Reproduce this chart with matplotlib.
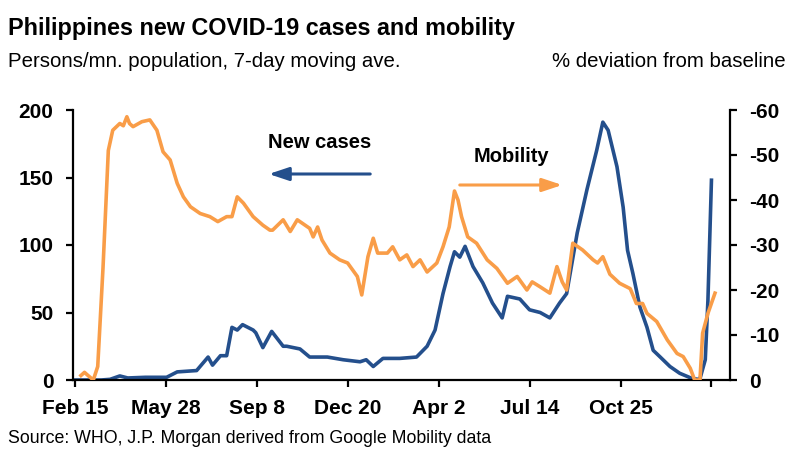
import matplotlib
matplotlib.use("Agg")
import matplotlib.pyplot as plt
import pandas as pd

plt.rcParams['font.family'] = ['Liberation Sans', 'DejaVu Sans']

# New cases, persons per mn population (7-day ma), left axis
case_dates = [
    '2020-02-15', '2020-03-16', '2020-03-26', '2020-04-06', '2020-04-15', '2020-05-05',
    '2020-05-29', '2020-06-10', '2020-07-02', '2020-07-15', '2020-07-20', '2020-07-29',
    '2020-08-05', '2020-08-11', '2020-08-17', '2020-08-23', '2020-08-29', '2020-09-04',
    '2020-09-07', '2020-09-15', '2020-09-25', '2020-10-08', '2020-10-12', '2020-10-27',
    '2020-11-07', '2020-11-27', '2020-12-15', '2021-01-03', '2021-01-10', '2021-01-18',
    '2021-01-29', '2021-02-17', '2021-03-08', '2021-03-20', '2021-03-29', '2021-04-07',
    '2021-04-15', '2021-04-20', '2021-04-26', '2021-05-02', '2021-05-11', '2021-05-22',
    '2021-06-02', '2021-06-13', '2021-06-19', '2021-07-03', '2021-07-14', '2021-07-26',
    '2021-08-06', '2021-08-17', '2021-08-25', '2021-09-06', '2021-09-17', '2021-09-28',
    '2021-10-05', '2021-10-11', '2021-10-21', '2021-10-28', '2021-11-02', '2021-11-08',
    '2021-11-16', '2021-11-24', '2021-12-01', '2021-12-09', '2021-12-20', '2021-12-31',
    '2022-01-12', '2022-01-20', '2022-01-23', '2022-01-29', '2022-02-01', '2022-02-05',
]
new_cases = [
    0, 0, 0.5, 3, 1.5, 2,
    2, 6, 7, 17, 11, 18,
    18, 39, 37, 41, 39, 37,
    35, 24, 36, 25, 25, 23,
    17, 17, 15, 13.5, 15, 10,
    16, 16, 17, 25, 37, 64,
    84, 95, 91, 99, 84, 72,
    57, 46, 62, 60, 52, 50,
    46, 57, 64, 109, 141, 170,
    191, 185, 158, 128, 96, 79,
    54, 39, 22, 17, 10, 5,
    1.7, 0.5, 1, 15, 59, 148,
]

# Mobility, % deviation from baseline, right axis (inverted)
mob_dates = [
    '2020-02-22', '2020-02-26', '2020-03-01', '2020-03-07', '2020-03-12', '2020-03-18',
    '2020-03-24', '2020-03-29', '2020-04-06', '2020-04-10', '2020-04-14', '2020-04-17',
    '2020-04-21', '2020-05-01', '2020-05-10', '2020-05-18', '2020-05-25', '2020-06-02',
    '2020-06-10', '2020-06-17', '2020-06-25', '2020-07-06', '2020-07-17', '2020-07-26',
    '2020-08-05', '2020-08-11', '2020-08-17', '2020-08-24', '2020-09-04', '2020-09-15',
    '2020-09-23', '2020-09-26', '2020-10-08', '2020-10-16', '2020-10-24', '2020-11-07',
    '2020-11-11', '2020-11-16', '2020-11-21', '2020-11-30', '2020-12-11', '2020-12-20',
    '2020-12-31', '2021-01-05', '2021-01-12', '2021-01-18', '2021-01-23', '2021-02-03',
    '2021-02-09', '2021-02-17', '2021-02-25', '2021-03-04', '2021-03-12', '2021-03-20',
    '2021-03-31', '2021-04-07', '2021-04-14', '2021-04-20', '2021-04-24', '2021-04-28',
    '2021-05-05', '2021-05-15', '2021-05-27', '2021-06-07', '2021-06-19', '2021-06-30',
    '2021-07-11', '2021-07-17', '2021-07-26', '2021-08-06', '2021-08-14', '2021-08-20',
    '2021-08-25', '2021-09-01', '2021-09-12', '2021-09-24', '2021-09-29', '2021-10-05',
    '2021-10-13', '2021-10-24', '2021-11-05', '2021-11-12', '2021-11-19', '2021-11-24',
    '2021-12-05', '2021-12-17', '2021-12-28', '2022-01-04', '2022-01-12', '2022-01-17',
    '2022-01-23', '2022-01-26', '2022-02-01', '2022-02-09',
]
mobility = [
    -1, -1.7, -1, 0, -3, -25,
    -51, -55.5, -57, -56.5, -58.5, -57,
    -56.3, -57.4, -57.8, -55.5, -50.7, -48.9,
    -43.7, -40.7, -38.5, -37, -36.3, -35.2,
    -36.3, -36.3, -40.7, -39.3, -36.3, -34.4,
    -33.3, -33.3, -35.6, -33, -35.6, -33.7,
    -31.8, -34, -31.1, -28.2, -26.7, -26,
    -23, -18.9, -27.4, -31.5, -28.2, -28.2,
    -29.6, -26.7, -27.8, -25.2, -26.7, -24,
    -26, -29.6, -34, -42, -40, -36.3,
    -31.8, -30.4, -26.7, -24.8, -21.5, -23,
    -20, -21.8, -20.7, -19.3, -25.2, -21.8,
    -20, -30.4, -28.9, -26.7, -26, -27.4,
    -23.5, -21.5, -20.3, -17, -17, -14.8,
    -13, -8.9, -5.9, -5.2, -2.6, 0,
    0, -10.4, -14.8, -19.3,
]

tick_dates = pd.date_range('2020-02-15', periods=8, freq='103D')
tick_labels = ['Feb 15', 'May 28', 'Sep 8', 'Dec 20', 'Apr 2', 'Jul 14', 'Oct 25', '']

blue = '#244f8c'
orange = '#f99d48'

fig = plt.figure(figsize=(8, 4.55), dpi=100)
ax = fig.add_axes([73 / 800, 1 - 380 / 455, (730 - 73) / 800, (380 - 110) / 455])
ax2 = ax.twinx()

ax.plot(pd.to_datetime(case_dates), new_cases, color=blue, lw=2.6, solid_joinstyle='round')
ax2.plot(pd.to_datetime(mob_dates), mobility, color=orange, lw=2.6, solid_joinstyle='round')

ax.set_xlim(pd.Timestamp('2020-02-13'), pd.Timestamp('2022-02-26'))
ax.set_ylim(0, 200)
ax.set_yticks([0, 50, 100, 150, 200])
ax2.set_ylim(0, -60)
ax2.set_yticks([0, -10, -20, -30, -40, -50, -60])
ax2.set_yticklabels(['0', '-10', '-20', '-30', '-40', '-50', '-60'])
ax.set_xticks(tick_dates)
ax.set_xticklabels(tick_labels)

for a in (ax, ax2):
    a.spines['top'].set_visible(False)
    for s in ('left', 'right', 'bottom'):
        a.spines[s].set_linewidth(1.6)
    a.tick_params(axis='both', length=5, width=1.6, labelsize=15, pad=9)
    for lab in a.get_xticklabels() + a.get_yticklabels():
        lab.set_fontweight('bold')
ax.spines['right'].set_visible(False)
ax2.spines['left'].set_visible(False)
ax2.spines['bottom'].set_visible(False)
ax.tick_params(axis='x', pad=9)

# arrows with labels
fig.text(320 / 800, 1 - 143 / 455, 'New cases', ha='center', va='center',
         fontsize=14.5, fontweight='bold')
ax.annotate('', xy=(266 / 800, 1 - 174 / 455), xytext=(373 / 800, 1 - 174 / 455),
            xycoords='figure fraction', textcoords='figure fraction',
            arrowprops=dict(arrowstyle='-|>,head_length=1.2,head_width=0.4',
                            color=blue, lw=2.2))
fig.text(511 / 800, 1 - 157 / 455, 'Mobility', ha='center', va='center',
         fontsize=14.5, fontweight='bold')
ax.annotate('', xy=(565 / 800, 1 - 185 / 455), xytext=(457 / 800, 1 - 185 / 455),
            xycoords='figure fraction', textcoords='figure fraction',
            arrowprops=dict(arrowstyle='-|>,head_length=1.2,head_width=0.4',
                            color=orange, lw=2.2))

fig.text(8 / 800, 1 - 35 / 455, 'Philippines new COVID-19 cases and mobility',
         fontsize=16.8, fontweight='bold', va='baseline')
fig.text(8 / 800, 1 - 67 / 455, 'Persons/mn. population, 7-day moving ave.',
         fontsize=14.7, va='baseline')
fig.text(786 / 800, 1 - 67 / 455, '% deviation from baseline',
         fontsize=14.7, va='baseline', ha='right')
fig.text(8 / 800, 1 - 443 / 455, 'Source: WHO, J.P. Morgan derived from Google Mobility data',
         fontsize=12.8, va='baseline')

fig.savefig('out.png', dpi=100)
